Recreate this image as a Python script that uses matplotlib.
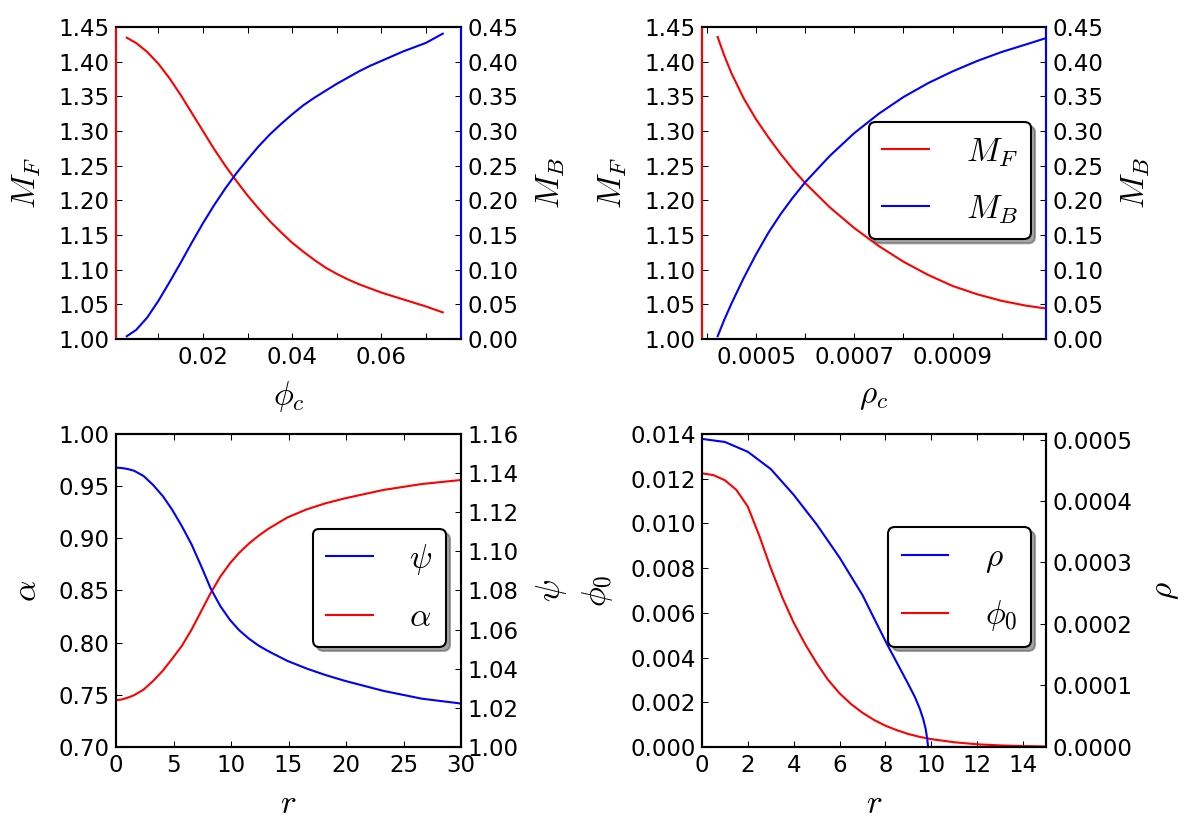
import matplotlib
matplotlib.use('Agg')
import matplotlib.pyplot as plt
from matplotlib.ticker import FormatStrFormatter

# ---- top-left: masses vs phi_c ----
phic_grid = [0.0029, 0.0050, 0.0075, 0.0100, 0.0125, 0.0150, 0.0175, 0.0200, 0.0225,
             0.0250, 0.0275, 0.0300, 0.0325, 0.0350, 0.0375, 0.0400, 0.0425, 0.0450,
             0.0475, 0.0500, 0.0525, 0.0550, 0.0575, 0.0600, 0.0625, 0.0650, 0.0675,
             0.0700, 0.0738]
mf_phic = [1.4346, 1.427, 1.414, 1.397, 1.376, 1.352, 1.326, 1.300, 1.274,
           1.250, 1.228, 1.207, 1.188, 1.170, 1.154, 1.139, 1.126, 1.114,
           1.103, 1.094, 1.086, 1.079, 1.073, 1.067, 1.062, 1.057, 1.052,
           1.047, 1.0384]
mb_phic = [0.004, 0.013, 0.031, 0.055, 0.082, 0.110, 0.139, 0.167, 0.193,
           0.217, 0.239, 0.259, 0.278, 0.295, 0.310, 0.324, 0.337, 0.348,
           0.358, 0.368, 0.377, 0.386, 0.394, 0.401, 0.408, 0.415, 0.421,
           0.427, 0.4404]

# ---- top-right: masses vs rho_c ----
rhoc_grid = [0.000422, 0.000435, 0.000450, 0.000475, 0.000500, 0.000525, 0.000550,
             0.000575, 0.000600, 0.000650, 0.000700, 0.000750, 0.000800, 0.000850,
             0.000900, 0.000950, 0.001000, 0.001050, 0.001090]
mf_rhoc = [1.4356, 1.4096, 1.3834, 1.347, 1.317, 1.291, 1.267,
           1.245, 1.225, 1.190, 1.160, 1.134, 1.1115, 1.0925,
           1.0765, 1.0645, 1.055, 1.048, 1.044]
mb_rhoc = [0.004, 0.027, 0.051, 0.088, 0.122, 0.153, 0.180,
           0.204, 0.226, 0.264, 0.297, 0.325, 0.349, 0.369,
           0.386, 0.401, 0.414, 0.425, 0.434]

# ---- bottom-left: metric functions vs r ----
r_metric = [0, 0.5, 1.0, 1.57, 2.4, 3.23, 4.1, 4.9, 5.73, 6.57, 7.4, 8.23, 9.07, 9.9,
            10.7, 11.57, 12.4, 13.23, 14.9, 16.57, 18.2, 19.9, 23.23, 26.57, 30]
alpha_r = [0.7448, 0.7455, 0.7472, 0.7496, 0.7550, 0.7633, 0.7735, 0.7848, 0.7970,
           0.8125, 0.8300, 0.8475, 0.8633, 0.8759, 0.8860, 0.8951, 0.9025, 0.9090,
           0.9200, 0.9277, 0.9335, 0.9383, 0.9463, 0.9520, 0.9559]
psi_r = [1.1428, 1.1426, 1.1421, 1.1412, 1.1385, 1.1339, 1.1280, 1.1211, 1.1128,
         1.1035, 1.0925, 1.0810, 1.0720, 1.0650, 1.0597, 1.0553, 1.0518, 1.0490,
         1.0440, 1.0401, 1.0368, 1.0338, 1.0287, 1.0247, 1.0222]

# ---- bottom-right: scalar field and density vs r ----
r_phi = [0, 0.5, 1.0, 1.5, 2.0, 2.5, 3.0, 3.5, 4.0, 4.5, 5.0, 5.5, 6.0, 6.5, 7.0,
         7.5, 8.0, 8.5, 9.0, 9.5, 10, 11, 12, 13, 14, 15]
phi0_r = [0.01224, 0.01216, 0.01193, 0.01150, 0.01075, 0.00945, 0.00800, 0.00670,
          0.00556, 0.00460, 0.00375, 0.00300, 0.00240, 0.00192, 0.00153, 0.00121,
          0.00095, 0.00075, 0.00058, 0.00045, 0.00035, 0.00021, 0.00012, 0.00007,
          0.00004, 0.00002]
r_rho = [0, 1, 2, 3, 4, 5, 6, 7, 7.6, 8.1, 8.6, 9.0, 9.3, 9.5, 9.65, 9.75, 9.82,
         9.86, 15]
rho_r = [5.01e-4, 4.96e-4, 4.80e-4, 4.52e-4, 4.10e-4, 3.62e-4, 3.08e-4, 2.47e-4,
         2.02e-4, 1.65e-4, 1.30e-4, 1.02e-4, 0.80e-4, 0.62e-4, 0.45e-4, 0.30e-4,
         0.14e-4, 0.0, 0.0]

TICK_FS = 16.5
LABEL_FS = 24

plt.rcParams['mathtext.fontset'] = 'cm'
plt.rcParams['font.family'] = 'DejaVu Sans'
plt.rcParams['font.size'] = TICK_FS
plt.rcParams['axes.linewidth'] = 1.5
plt.rcParams['lines.linewidth'] = 1.5
plt.rcParams['xtick.direction'] = 'in'
plt.rcParams['ytick.direction'] = 'in'
plt.rcParams['xtick.major.size'] = 4.5
plt.rcParams['ytick.major.size'] = 4.5
plt.rcParams['xtick.major.width'] = 0.75
plt.rcParams['ytick.major.width'] = 0.75
plt.rcParams['xtick.major.pad'] = 5
plt.rcParams['ytick.major.pad'] = 4.5
plt.rcParams['xtick.top'] = True

XPAD = 7.5
YPAD = 11


def add_legend(ax, handles, labels):
    leg = ax.legend(handles, labels, loc='lower right', bbox_to_anchor=(0.956, 0.32),
                    borderaxespad=0, fontsize=LABEL_FS, fancybox=True,
                    shadow={'ox': 3, 'oy': -3}, framealpha=1, edgecolor='k',
                    borderpad=0.4, labelspacing=0.7, handlelength=1.4,
                    handletextpad=1.1)
    leg.get_frame().set_linewidth(1.5)
    return leg


def colour_spines(ax, ax2):
    ax.spines['left'].set_color('r')
    ax2.spines['left'].set_color('r')
    ax.spines['right'].set_color('b')
    ax2.spines['right'].set_color('b')


def set_labels(ax, ax2, xl, yl, yl2):
    ax.set_xlabel(xl, fontsize=LABEL_FS, labelpad=XPAD)
    ax.set_ylabel(yl, fontsize=LABEL_FS, labelpad=YPAD)
    ax2.set_ylabel(yl2, fontsize=LABEL_FS, labelpad=YPAD)


fig = plt.figure(figsize=(11.95, 8.36), dpi=100)
pos = {
    'tl': [0.0971, 0.5945, 0.2887, 0.3732],
    'tr': [0.5874, 0.5945, 0.2879, 0.3732],
    'bl': [0.0971, 0.1065, 0.2887, 0.3744],
    'br': [0.5874, 0.1065, 0.2879, 0.3744],
}

# top-left
ax = fig.add_axes(pos['tl'])
ax2 = ax.twinx()
ax.plot(phic_grid, mf_phic, color='r')
ax2.plot(phic_grid, mb_phic, color='b')
ax.set_xlim(0.0005, 0.0779)
ax.set_ylim(1.00, 1.45)
ax2.set_ylim(0.00, 0.45)
ax.set_xticks([0.01, 0.02, 0.03, 0.04, 0.05, 0.06, 0.07])
ax.set_xticklabels(['', '0.02', '', '0.04', '', '0.06', ''])
ax.set_yticks([1.00 + 0.05 * i for i in range(10)])
ax2.set_yticks([0.05 * i for i in range(10)])
ax.yaxis.set_major_formatter(FormatStrFormatter('%.2f'))
ax2.yaxis.set_major_formatter(FormatStrFormatter('%.2f'))
set_labels(ax, ax2, r'$\phi_c$', r'$M_F$', r'$M_B$')
colour_spines(ax, ax2)

# top-right
ax = fig.add_axes(pos['tr'])
ax2 = ax.twinx()
l1, = ax.plot(rhoc_grid, mf_rhoc, color='r')
l2, = ax2.plot(rhoc_grid, mb_rhoc, color='b')
ax.set_xlim(0.00039, 0.00109)
ax.set_ylim(1.00, 1.45)
ax2.set_ylim(0.00, 0.45)
ax.set_xticks([0.0004, 0.0005, 0.0006, 0.0007, 0.0008, 0.0009, 0.0010])
ax.set_xticklabels(['', '0.0005', '', '0.0007', '', '0.0009', ''])
ax.set_yticks([1.00 + 0.05 * i for i in range(10)])
ax2.set_yticks([0.05 * i for i in range(10)])
ax.yaxis.set_major_formatter(FormatStrFormatter('%.2f'))
ax2.yaxis.set_major_formatter(FormatStrFormatter('%.2f'))
set_labels(ax, ax2, r'$\rho_c$', r'$M_F$', r'$M_B$')
colour_spines(ax, ax2)
add_legend(ax2, [l1, l2], [r'$M_F$', r'$M_B$'])

# bottom-left
ax = fig.add_axes(pos['bl'])
ax2 = ax.twinx()
l_alpha, = ax.plot(r_metric, alpha_r, color='r')
l_psi, = ax2.plot(r_metric, psi_r, color='b')
ax.set_xlim(0, 30)
ax.set_ylim(0.70, 1.00)
ax2.set_ylim(1.00, 1.16)
ax.set_xticks([0, 5, 10, 15, 20, 25, 30])
ax.set_yticks([0.70, 0.75, 0.80, 0.85, 0.90, 0.95, 1.00])
ax2.set_yticks([1.00, 1.02, 1.04, 1.06, 1.08, 1.10, 1.12, 1.14, 1.16])
ax.yaxis.set_major_formatter(FormatStrFormatter('%.2f'))
ax2.yaxis.set_major_formatter(FormatStrFormatter('%.2f'))
set_labels(ax, ax2, r'$r$', r'$\alpha$', r'$\psi$')
add_legend(ax2, [l_psi, l_alpha], [r'$\psi$', r'$\alpha$'])

# bottom-right
ax = fig.add_axes(pos['br'])
ax2 = ax.twinx()
l_phi, = ax.plot(r_phi, phi0_r, color='r')
l_rho, = ax2.plot(r_rho, rho_r, color='b')
ax.set_xlim(0, 15)
ax.set_ylim(0, 0.014)
ax2.set_ylim(0, 0.000509)
ax.set_xticks([0, 2, 4, 6, 8, 10, 12, 14])
ax.set_yticks([0.002 * i for i in range(8)])
ax2.set_yticks([0.0001 * i for i in range(6)])
ax.yaxis.set_major_formatter(FormatStrFormatter('%.3f'))
ax2.yaxis.set_major_formatter(FormatStrFormatter('%.4f'))
set_labels(ax, ax2, r'$r$', r'$\phi_0$', r'$\rho$')
add_legend(ax2, [l_rho, l_phi], [r'$\rho$', r'$\phi_0$'])

fig.savefig('out.png', dpi=100, facecolor='white')
